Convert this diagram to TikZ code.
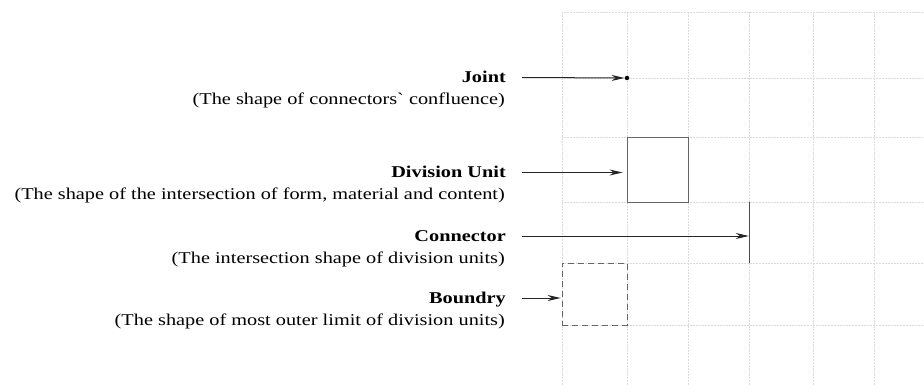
\documentclass[tikz,border=0pt]{standalone}
\usepackage{fontspec}
\setmainfont{Liberation Serif}
\usetikzlibrary{positioning}
\usetikzlibrary{arrows.meta}

\newcommand{\widetext}[1]{\scalebox{1.23}[1]{#1}}

\tikzset{
  gridline/.style={gray!28, densely dotted, line width=0.5pt},
  title/.style={font=\fontsize{16.5}{20}\selectfont\bfseries, anchor=east, inner xsep=16pt, inner ysep=0pt, text height=11pt, text depth=0pt},
  desc/.style={font=\fontsize{16.5}{20}\selectfont, anchor=base east, inner sep=0pt},
  pointer/.style={-{Stealth[length=13pt,width=6pt,inset=4pt]}, line width=1pt, black!85},
}

\begin{document}
\begin{tikzpicture}[x=1pt,y=-1pt]

\useasboundingbox (0,0) rectangle (924,385);

%% grid
\foreach \gx in {562,627,688,749,813,874}
  \draw[gridline] (\gx,12) -- (\gx,385);
\foreach \gy in {12,78,137,202,263,325}
  \draw[gridline] (562,\gy) -- (924,\gy);

%% shapes
\node[circle, fill=black, inner sep=0pt, minimum size=4.5pt] (jdot) at (627,78) {};
\node[draw=black!60, line width=0.8pt, minimum width=61pt, minimum height=65pt, inner sep=0pt] (unit) at (657.5,169.5) {};
\node[inner sep=0pt, minimum width=0pt, minimum height=61pt] (cline) at (749,232.5) {};
\draw[black!70, line width=1pt] (cline.north) -- (cline.south);
\node[draw=black!60, dash pattern=on 6pt off 4pt, line width=0.8pt, minimum width=65pt, minimum height=62pt, inner sep=0pt] (bound) at (594.5,294) {};

% labels
\node[title] (jtitle) at (522,77.5) {\widetext{Joint}};
\node[desc] (jdesc) at (505,104.5) {\widetext{(The shape of connectors\textasciigrave{} confluence)}};

\node[title] (utitle) at (522,172.5) {\widetext{Division Unit}};
\node[desc] (udesc) at (505,199.5) {\widetext{(The shape of the intersection of form, material and content)}};

\node[title] (ctitle) at (522,236) {\widetext{Connector}};
\node[desc] (cdesc) at (505,263) {\widetext{(The intersection shape of division units)}};

\node[title] (btitle) at (522,298) {\widetext{Boundry}};
\node[desc] (bdesc) at (505,325) {\widetext{(The shape of most outer limit of division units)}};

%% arrows
\draw[pointer] (jtitle.east) -- (jdot);
\draw[pointer, shorten >=4pt] (utitle.east) -- (utitle.east -| unit.west);
\draw[pointer] (ctitle.east) -- (ctitle.east -| cline.west);
\draw[pointer, shorten >=1pt] (btitle.east) -- (btitle.east -| bound.west);
\end{tikzpicture}
\end{document}
